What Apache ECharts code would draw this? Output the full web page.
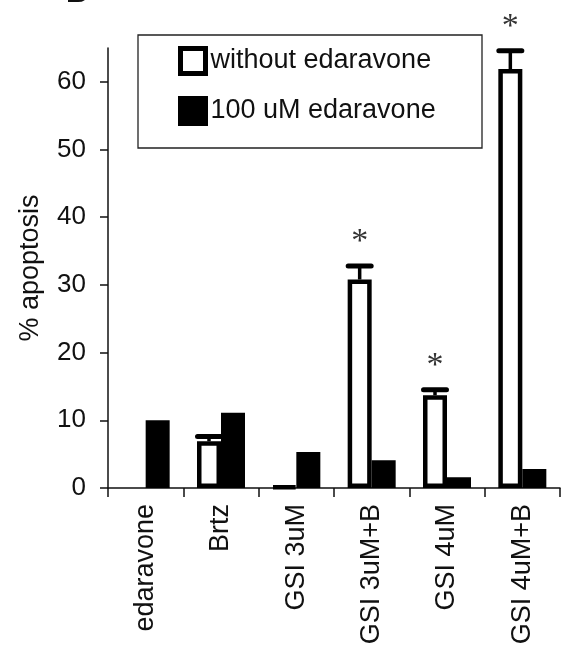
<!DOCTYPE html>
<html>
<head>
<meta charset="utf-8">
<script src="https://cdn.jsdelivr.net/npm/echarts@6/dist/echarts.min.js"></script>
<style>html,body{margin:0;padding:0;background:#fff;}#c{width:567px;height:650px;}</style>
</head>
<body>
<div id="c"></div>
<script>
const categories = ['edaravone', 'Brtz', 'GSI 3uM', 'GSI 3uM+B', 'GSI 4uM', 'GSI 4uM+B'];
const withoutEdaravone = [null, 6.9, 0.2, 30.8, 13.7, 61.9];
const withEdaravone = [10.0, 11.1, 5.3, 4.1, 1.6, 2.8];
const withoutErr = [null, 0.7, null, 2.0, 0.8, 2.7];
const significant = [false, false, false, true, true, true];
const yTicks = [0, 10, 20, 30, 40, 50, 60];
const seriesNames = ['without edaravone', '100 uM edaravone'];

const BAR_W = 24;
const FONT = 'Arial, "Liberation Sans", sans-serif';
const chart = echarts.init(document.getElementById('c'));

const errData = categories.map((c, i) => [i, withoutEdaravone[i], withoutErr[i], significant[i] ? 1 : 0])
  .filter(d => d[1] != null);

chart.setOption({
  animation: false,
  backgroundColor: '#fff',
  grid: { left: 108, top: 48, right: 7, bottom: 162 },
  legend: {
    orient: 'vertical', left: 178, top: 46, padding: 0,
    itemWidth: 25, itemHeight: 25, itemGap: 20, icon: 'rect',
    itemStyle: { borderWidth: 5 },
    textStyle: { fontSize: 27, color: '#111', fontFamily: FONT },
    data: seriesNames
  },
  graphic: [
    { type: 'rect', shape: { x: 138, y: 35, width: 344, height: 113 },
      style: { fill: 'none', stroke: '#222', lineWidth: 1.3 }, z: 10 },
    { type: 'text', x: 66, y: 9, style: { text: 'B', font: 'bold 30px Arial', fill: '#111', verticalAlign: 'bottom' } }
  ],
  xAxis: {
    type: 'category', data: categories,
    axisLine: { lineStyle: { color: '#111', width: 1.5 } },
    axisTick: { show: true, length: 9, interval: 0, lineStyle: { color: '#111', width: 1.5 } },
    axisLabel: { rotate: 90, margin: 16, interval: 0, fontSize: 27, color: '#111', fontFamily: FONT }
  },
  yAxis: {
    type: 'value', min: 0, max: 65,
    name: '% apoptosis', nameLocation: 'middle', nameRotate: 90, nameGap: 64,
    nameTextStyle: { fontSize: 27, color: '#111', fontFamily: FONT },
    splitLine: { show: false },
    axisLine: { show: true, lineStyle: { color: '#111', width: 1.5 } },
    axisTick: { show: true, length: 8, customValues: yTicks, lineStyle: { color: '#111', width: 1.5 } },
    axisLabel: { customValues: yTicks, margin: 22, fontSize: 26, color: '#111', fontFamily: FONT }
  },
  series: [
    { name: seriesNames[0], type: 'bar', data: withoutEdaravone, barWidth: BAR_W, barGap: '0%',
      itemStyle: { color: '#fff', borderColor: '#000', borderWidth: 4.5 } },
    { name: seriesNames[1], type: 'bar', data: withEdaravone, barWidth: BAR_W, barGap: '0%',
      itemStyle: { color: '#000', borderColor: '#000', borderWidth: 3 } },
    { type: 'custom', data: errData, z: 5, silent: true,
      renderItem: function (params, api) {
        const idx = api.value(0), val = api.value(1), err = api.value(2), sig = api.value(3);
        const base = api.coord([idx, val]);
        const cx = base[0] - BAR_W / 2;
        const children = [];
        let topY = base[1];
        if (!isNaN(err) && err > 0) {
          const t = api.coord([idx, val + err]);
          topY = t[1];
          children.push({ type: 'line', shape: { x1: cx, y1: base[1], x2: cx, y2: t[1] },
            style: { stroke: '#000', lineWidth: 3.5 } });
          children.push({ type: 'line', shape: { x1: cx - 11.5, y1: t[1], x2: cx + 11.5, y2: t[1] },
            style: { stroke: '#000', lineWidth: 5, lineCap: 'round' } });
        }
        if (sig) {
          children.push({ type: 'text', style: { text: '*', x: cx, y: topY - 24,
            font: '34px "Liberation Serif", serif', fill: '#333', align: 'center', verticalAlign: 'middle' } });
        }
        return { type: 'group', children: children };
      }
    }
  ]
});
</script>
</body>
</html>
